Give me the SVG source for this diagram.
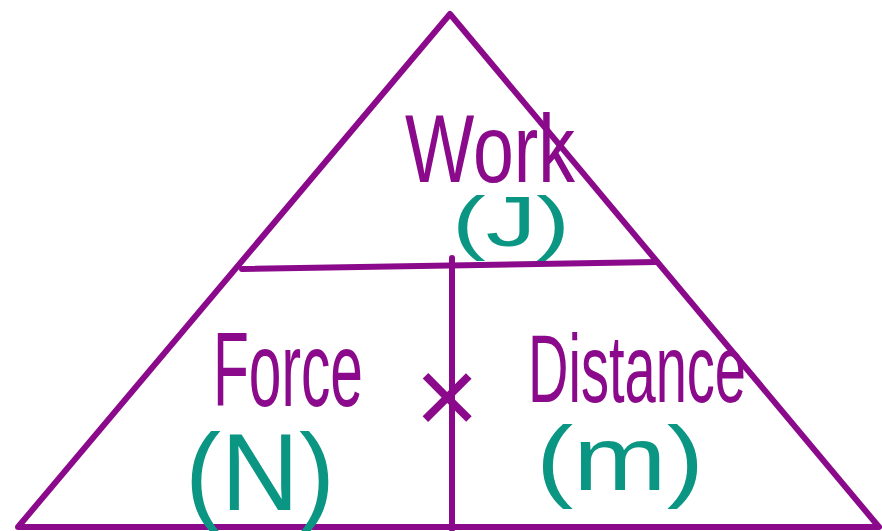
<svg xmlns="http://www.w3.org/2000/svg" width="882" height="531" viewBox="0 0 882 531">
<style>
.ln{stroke:#8b0a8b;stroke-width:6;fill:none;stroke-linecap:round;stroke-linejoin:round}
.q{fill:#8b0a8b;font-family:"Liberation Sans","DejaVu Sans",sans-serif}
.u{fill:#0b9684;font-family:"Liberation Sans","DejaVu Sans",sans-serif}
</style>
<rect width="882" height="531" fill="#ffffff"/>
<g id="connectors">
<path class="ln" d="M18,527 L450,14 L879,527 Z"/>
<path class="ln" d="M242,269 L657,262"/>
<path class="ln" d="M452,258 L452,529"/>
</g>
<g id="work">
<text class="q" x="405" y="182" font-size="96" textLength="170" lengthAdjust="spacingAndGlyphs">Work</text>
<text class="u" x="452" y="246" font-size="70" textLength="118" lengthAdjust="spacingAndGlyphs">(J)</text>
</g>
<g id="force">
<text class="q" x="213" y="406" font-size="106" textLength="150" lengthAdjust="spacingAndGlyphs">Force</text>
<text class="u" x="185" y="510" font-size="110" textLength="150" lengthAdjust="spacingAndGlyphs">(N)</text>
</g>
<g id="times">
<text class="q" x="447" y="434" font-size="110" text-anchor="middle">×</text>
</g>
<g id="distance">
<text class="q" x="528" y="402" font-size="96" textLength="218" lengthAdjust="spacingAndGlyphs">Distance</text>
<text class="u" x="536" y="490" font-size="90" textLength="168" lengthAdjust="spacingAndGlyphs">(m)</text>
</g>
</svg>
